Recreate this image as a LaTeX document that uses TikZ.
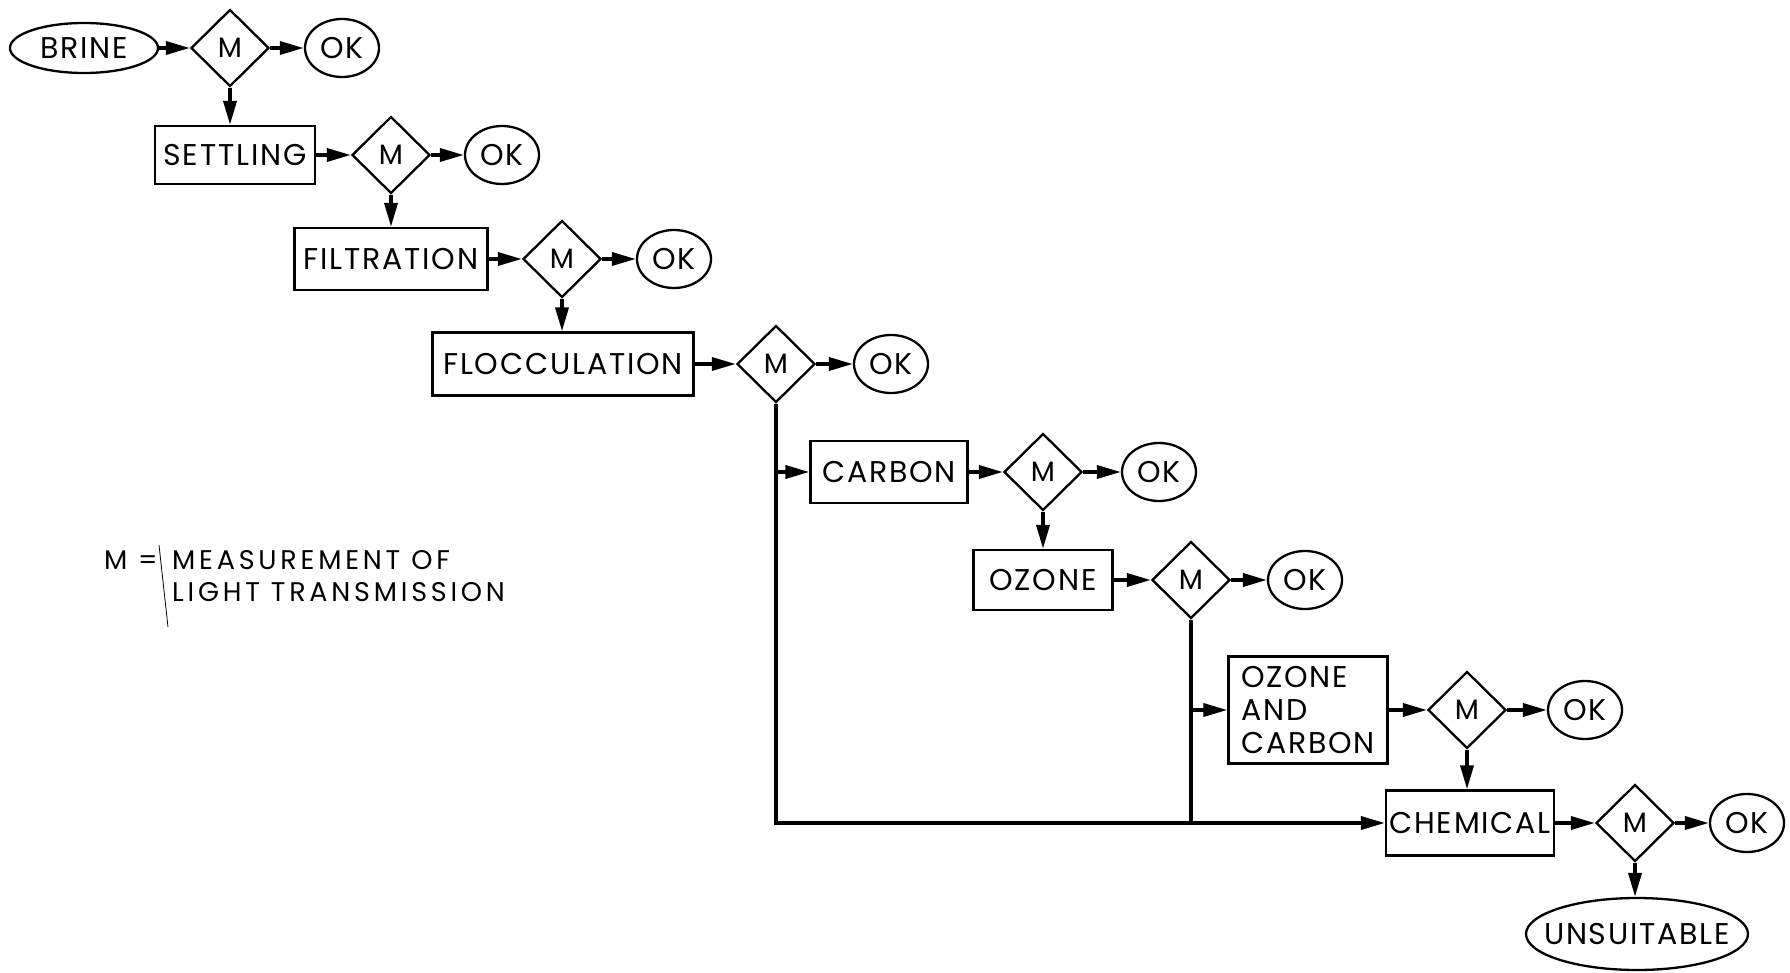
\documentclass[tikz,border=0pt]{standalone}
\usepackage{fontspec}
\setmainfont{Poppins}[LetterSpace=6]
\newfontfamily\legendfont[LetterSpace=14]{Poppins}
\usetikzlibrary{shapes.geometric,arrows.meta}
\begin{document}
\begin{tikzpicture}[x=1pt,y=-1pt,
  lbl/.style={font=\fontsize{30}{33}\selectfont},
  proc/.style={draw, line width=2.3pt, rectangle, inner sep=0pt, lbl},
  meas/.style={draw, line width=2.3pt, diamond, aspect=1, inner sep=0pt,
    minimum width=78pt, minimum height=77pt, font=\fontsize{28}{30}\selectfont},
  term/.style={draw, line width=2.3pt, ellipse, inner sep=0pt, lbl},
  okay/.style={term, minimum width=74pt, minimum height=58pt},
  flow/.style={line width=3.6pt, -{Triangle[length=24pt,width=13pt]}},
  wire/.style={line width=3.6pt},
  legend/.style={inner sep=0pt, font=\legendfont\fontsize{27}{30}\selectfont}
]
\useasboundingbox (0,0) rectangle (1790,973);

% row 1
\node[term, inner xsep=-10pt, minimum width=148pt, minimum height=50pt] (brine) at (84,48) {BRINE};
\node[meas] (m1) at (230,48) {M};
\node[okay] (ok1) at (342,48) {OK};
% row 2
\node[proc, minimum width=160pt, minimum height=58pt] (settling) at (235,155) {SETTLING};
\node[meas] (m2) at (391,155) {M};
\node[okay] (ok2) at (502,155) {OK};
% row 3
\node[proc, minimum width=193pt, minimum height=62pt] (filtration) at (391,259) {FILTRATION};
\node[meas] (m3) at (562,259) {M};
\node[okay] (ok3) at (674,259) {OK};
% row 4
\node[proc, minimum width=261pt, minimum height=63pt] (floc) at (563,364) {FLOCCULATION};
\node[meas] (m4) at (776,364) {M};
\node[okay] (ok4) at (891,364) {OK};
% row 5
\node[proc, minimum width=157pt, minimum height=62pt] (carbon) at (889,472) {CARBON};
\node[meas] (m5) at (1043,472) {M};
\node[okay] (ok5) at (1159,472) {OK};
% row 6
\node[proc, minimum width=139pt, minimum height=60pt] (ozone) at (1043,580) {OZONE};
\node[meas] (m6) at (1191,580) {M};
\node[okay] (ok6) at (1305,580) {OK};
% row 7
\node[proc, minimum width=159pt, minimum height=107pt, align=left] (oac) at (1308,710) {OZONE\\AND\\CARBON};
\node[meas] (m7) at (1467,710) {M};
\node[okay] (ok7) at (1585,710) {OK};
% row 8
\node[proc, minimum width=168pt, minimum height=65pt] (chem) at (1470,823) {CHEMICAL};
\node[meas] (m8) at (1635,823) {M};
\node[okay] (ok8) at (1747,823) {OK};
\node[term, inner xsep=-17pt, minimum width=222pt, minimum height=72pt] (unsuit) at (1637,934) {UNSUITABLE};

% horizontal flows
\draw[flow] (brine.east) -- (m1.west);
\draw[flow] (m1.east) -- (ok1.west);
\draw[flow] (settling.east) -- (m2.west);
\draw[flow] (m2.east) -- (ok2.west);
\draw[flow] (filtration.east) -- (m3.west);
\draw[flow] (m3.east) -- (ok3.west);
\draw[flow] (floc.east) -- (m4.west);
\draw[flow] (m4.east) -- (ok4.west);
\draw[flow] (carbon.east) -- (m5.west);
\draw[flow] (m5.east) -- (ok5.west);
\draw[flow] (ozone.east) -- (m6.west);
\draw[flow] (m6.east) -- (ok6.west);
\draw[flow] (oac.east) -- (m7.west);
\draw[flow] (m7.east) -- (ok7.west);
\draw[flow] (chem.east) -- (m8.west);
\draw[flow] (m8.east) -- (ok8.west);

% vertical flows
\draw[flow] (m1.south) -- (m1.south |- settling.north);
\draw[flow] (m2.south) -- (m2.south |- filtration.north);
\draw[flow] (m3.south) -- (m3.south |- floc.north);
\draw[flow] (m5.south) -- (m5.south |- ozone.north);
\draw[flow] (m7.south) -- (m7.south |- chem.north);
\draw[flow] (m8.south) -- (m8.south |- unsuit.north);

% bypass lines
\coordinate (j1) at (m4.south |- carbon.west);
\coordinate (j2) at (m6.south |- oac.west);
\coordinate (j3) at (m6.south |- chem.west);
\draw[wire] (m4.south) -- (m4.south |- chem.west) -- (j3);
\draw[flow] (j3) -- (chem.west);
\draw[flow] (j1) -- (carbon.west);
\draw[wire] (m6.south) -- (j3);
\draw[flow] (j2) -- (oac.west);

% legend
\node[legend, anchor=base west] (lm) at (104,569) {M};
\node[legend, anchor=base west] (leq) at (138,569) {=};
\node[legend, anchor=base west] (l1) at (172,569) {MEASUREMENT OF};
\node[legend, anchor=base west] (l2) at (172,601) {LIGHT TRANSMISSION};
\draw[line width=0.8pt] (159,545) -- (168,627);
\end{tikzpicture}
\end{document}
